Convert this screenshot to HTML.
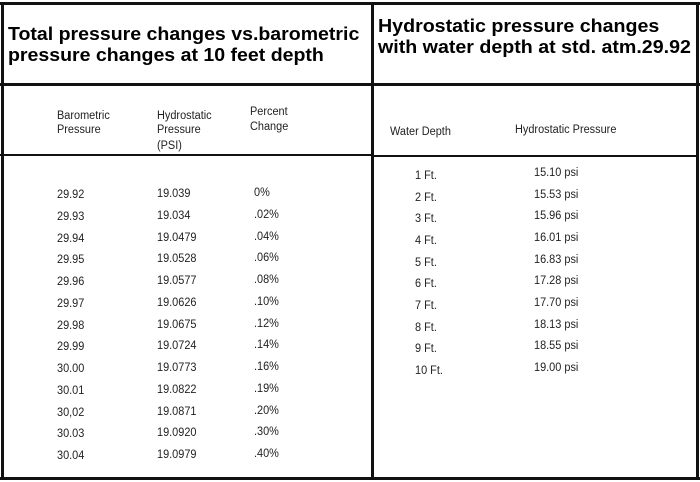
<!DOCTYPE html>
<html><head><style>
body{margin:0;width:700px;height:482px;background:#fff;position:relative;overflow:hidden;font-family:"Liberation Sans",sans-serif}
.b{position:absolute;background:#111}
.t{position:absolute;font-weight:bold;font-size:18px;color:#000;white-space:nowrap;line-height:20px;transform-origin:left}
.s{position:absolute;font-size:11.5px;color:#222;white-space:nowrap;line-height:12px;transform:scaleX(0.95);transform-origin:left}
</style></head><body>
<div class="b" style="left:0;top:2px;width:700px;height:3px"></div>
<div class="b" style="left:0;top:477px;width:700px;height:3px"></div>
<div class="b" style="left:1px;top:2px;width:3px;height:478px"></div>
<div class="b" style="left:696px;top:2px;width:3px;height:478px"></div>
<div class="b" style="left:371px;top:2px;width:3px;height:478px"></div>
<div class="b" style="left:0;top:83px;width:700px;height:3px"></div>
<div class="b" style="left:0;top:154px;width:372px;height:2px"></div>
<div class="b" style="left:372px;top:155px;width:326px;height:2px"></div>

<div class="t" style="left:8px;top:24px;transform:scaleX(1.085)">Total pressure changes vs.barometric</div>
<div class="t" style="left:8px;top:45px;transform:scaleX(1.085)">pressure changes at 10 feet depth</div>
<div class="t" style="left:378px;top:16px;transform:scaleX(1.09)">Hydrostatic pressure changes</div>
<div class="t" style="left:378px;top:37px;transform:scaleX(1.09)">with water depth at std. atm.29.92</div>

<div class="s" style="left:57px;top:110px">Barometric</div>
<div class="s" style="left:57px;top:124px">Pressure</div>
<div class="s" style="left:157px;top:110px">Hydrostatic</div>
<div class="s" style="left:157px;top:124px">Pressure</div>
<div class="s" style="left:157px;top:140px">(PSI)</div>
<div class="s" style="left:250px;top:106px">Percent</div>
<div class="s" style="left:250px;top:121px">Change</div>
<div class="s" style="left:390px;top:126px">Water Depth</div>
<div class="s" style="left:515px;top:124px">Hydrostatic Pressure</div>

<div class="s" style="left:57px;top:185px;line-height:21.75px">29.92<br>29.93<br>29.94<br>29.95<br>29.96<br>29.97<br>29.98<br>29.99<br>30.00<br>30.01<br>30,02<br>30.03<br>30.04</div>
<div class="s" style="left:157px;top:184px;line-height:21.75px">19.039<br>19.034<br>19.0479<br>19.0528<br>19.0577<br>19.0626<br>19.0675<br>19.0724<br>19.0773<br>19.0822<br>19.0871<br>19.0920<br>19.0979</div>
<div class="s" style="left:254px;top:183px;line-height:21.75px">0%<br>.02%<br>.04%<br>.06%<br>.08%<br>.10%<br>.12%<br>.14%<br>.16%<br>.19%<br>.20%<br>.30%<br>.40%</div>
<div class="s" style="left:415px;top:166px;line-height:21.67px">1 Ft.<br>2 Ft.<br>3 Ft.<br>4 Ft.<br>5 Ft.<br>6 Ft.<br>7 Ft.<br>8 Ft.<br>9 Ft.<br>10 Ft.</div>
<div class="s" style="left:534px;top:163px;line-height:21.67px">15.10 psi<br>15.53 psi<br>15.96 psi<br>16.01 psi<br>16.83 psi<br>17.28 psi<br>17.70 psi<br>18.13 psi<br>18.55 psi<br>19.00 psi</div>
</body></html>
